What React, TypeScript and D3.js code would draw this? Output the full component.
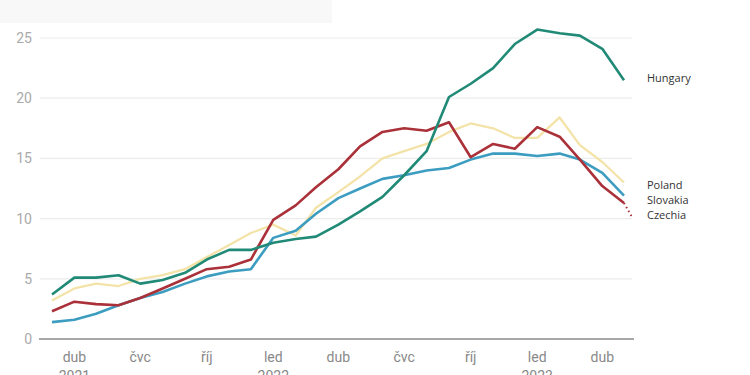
import React from "react";
import * as d3 from "d3";

const months: string[] = [
  "2021-03", "2021-04", "2021-05", "2021-06", "2021-07", "2021-08", "2021-09", "2021-10", "2021-11", "2021-12",
  "2022-01", "2022-02", "2022-03", "2022-04", "2022-05", "2022-06", "2022-07", "2022-08", "2022-09", "2022-10",
  "2022-11", "2022-12", "2023-01", "2023-02", "2023-03", "2023-04", "2023-05",
];

const hungary: number[] = [3.7, 5.1, 5.1, 5.3, 4.6, 4.9, 5.5, 6.6, 7.4, 7.4, 8.0, 8.3, 8.5, 9.5, 10.6, 11.8, 13.6, 15.6, 20.1, 21.2, 22.5, 24.5, 25.7, 25.4, 25.2, 24.1, 21.5];
const poland: number[] = [3.2, 4.2, 4.6, 4.4, 5.0, 5.3, 5.8, 6.8, 7.8, 8.8, 9.5, 8.6, 10.9, 12.2, 13.5, 15.0, 15.6, 16.2, 17.2, 17.9, 17.5, 16.7, 16.7, 18.4, 16.1, 14.7, 13.0];
const slovakia: number[] = [1.4, 1.6, 2.1, 2.8, 3.4, 3.9, 4.6, 5.2, 5.6, 5.8, 8.4, 9.0, 10.4, 11.7, 12.5, 13.3, 13.6, 14.0, 14.2, 14.9, 15.4, 15.4, 15.2, 15.4, 14.9, 13.8, 11.9];
const czechia: number[] = [2.3, 3.1, 2.9, 2.8, 3.4, 4.2, 5.0, 5.8, 6.0, 6.6, 9.9, 11.1, 12.6, 14.1, 16.0, 17.2, 17.5, 17.3, 18.0, 15.1, 16.2, 15.8, 17.6, 16.8, 14.9, 12.7, 11.3];
const czechiaNext: [string, number] = ["2023-06", 8.0];

const seriesNames: string[] = ["Poland", "Slovakia", "Czechia", "Hungary"];
const seriesColors: string[] = ["#f4e3a8", "#3c9dc0", "#aa3139", "#208a76"];
const seriesWidths: number[] = [2.3, 2.6, 2.6, 2.6];
const labelNames: string[] = ["Hungary", "Poland", "Slovakia", "Czechia"];

const yTicks: number[] = [0, 5, 10, 15, 20, 25];
const xTickDates: string[] = ["2021-04", "2021-07", "2021-10", "2022-01", "2022-04", "2022-07", "2022-10", "2023-01", "2023-04"];
const xTickMonth: string[] = ["dub", "čvc", "říj", "led", "dub", "čvc", "říj", "led", "dub"];
const xTickYear: string[] = ["2021", "", "", "2022", "", "", "", "2023", ""];

const parse = d3.timeParse("%Y-%m");

export default function App() {
  const W = 750, H = 375;
  const left = 40, right = 632;
  const x = d3.scaleTime()
    .domain([parse(months[0])!, parse(months[months.length - 1])!])
    .range([52, 624]);
  const y = d3.scaleLinear().domain([0, 25]).range([339, 38]);

  const dates = months.map((m) => parse(m)!);
  const data = [poland, slovakia, czechia, hungary];
  const line = d3.line<[Date, number]>().x((d) => x(d[0])).y((d) => y(d[1]));

  const lastIdx = months.length - 1;
  const dotted: [Date, number][] = [
    [dates[lastIdx], czechia[lastIdx]],
    [parse(czechiaNext[0])!, czechiaNext[1]],
  ];

  const labelY: Record<string, number> = {};
  labelY["Hungary"] = 78;
  labelY["Poland"] = 185;
  labelY["Slovakia"] = 200;
  labelY["Czechia"] = 215;

  return (
    <svg width={W} height={H} style={{ position: "absolute", left: 0, top: 0, background: "#fff" }}>
      <defs>
        <clipPath id="plotclip">
          <rect x={left} y={0} width={right - left} height={H} />
        </clipPath>
      </defs>
      <rect x={0} y={0} width={332} height={23} fill="#f8f8f8" />
      {yTicks.map((t) => (
        <g key={t}>
          {t !== 0 && (
            <line x1={left} x2={right} y1={y(t)} y2={y(t)} stroke="#ececec" strokeWidth={1.2} />
          )}
          <text x={32} y={y(t)} dy="0.35em" textAnchor="end" fontFamily="Roboto, sans-serif" fontSize={14} fill="#aaa">
            {t}
          </text>
        </g>
      ))}
      <line x1={39} x2={634} y1={y(0)} y2={y(0)} stroke="#8a8a8a" strokeWidth={1.5} />
      {xTickDates.map((d, i) => {
        const px = x(parse(d)!);
        return (
          <g key={d}>
            <text x={px} y={362} textAnchor="middle" fontFamily="Roboto, sans-serif" fontSize={14} fill="#888">
              {xTickMonth[i]}
            </text>
            {xTickYear[i] && (
              <text x={px} y={381} textAnchor="middle" fontFamily="Roboto, sans-serif" fontSize={14} fill="#888">
                {xTickYear[i]}
              </text>
            )}
          </g>
        );
      })}
      <g clipPath="url(#plotclip)">
        <path d={line(dotted) || ""} fill="none" stroke={seriesColors[2]} strokeWidth={2} strokeDasharray="1.5,3" />
        {data.map((vals, si) => (
          <path
            key={seriesNames[si]}
            d={line(vals.map((v, i) => [dates[i], v] as [Date, number])) || ""}
            fill="none"
            stroke={seriesColors[si]}
            strokeWidth={seriesWidths[si]}
            strokeLinejoin="round"
          />
        ))}
      </g>
      {labelNames.map((n) => (
        <text key={n} x={647} y={labelY[n]} dy="0.35em" fontFamily="'Open Sans', sans-serif" fontSize={11} fill="#333">
          {n}
        </text>
      ))}
    </svg>
  );
}
